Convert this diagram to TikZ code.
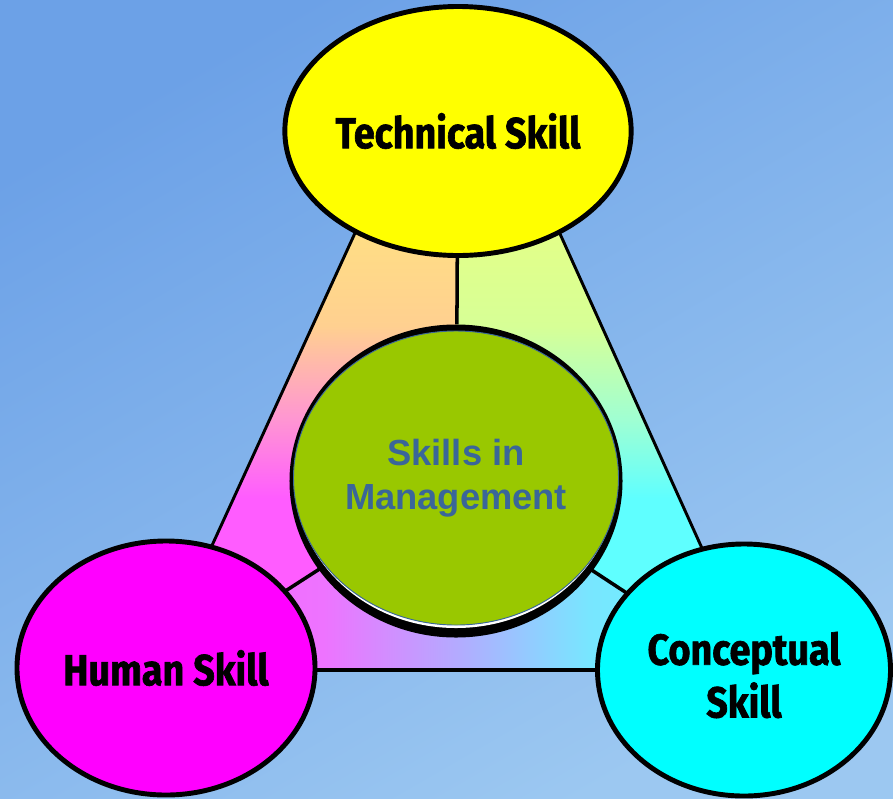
\documentclass[tikz,border=0pt]{standalone}
\usepackage{fontspec}
\setmainfont{Liberation Sans}
\newfontfamily\skillfont{Fira Sans}[FakeStretch=0.87,BoldFeatures={FakeBold=1.5}]
\usetikzlibrary{shapes.geometric}

\pgfdeclarelayer{back}
\pgfdeclarelayer{mid}
\pgfsetlayers{back,mid,main}

\definecolor{bgtop}{HTML}{6CA1E7}
\definecolor{bgbot}{HTML}{9CC8F1}
\definecolor{techyellow}{HTML}{FFFF00}
\definecolor{humanpink}{HTML}{FF00FF}
\definecolor{conceptcyan}{HTML}{00FFFF}
\definecolor{mgmtgreen}{HTML}{99C800}
\definecolor{mgmtblue}{HTML}{3A6699}
% triangle tints
\definecolor{paleyellow}{RGB}{255,255,105}
\definecolor{peach}{RGB}{255,208,144}
\definecolor{rosy}{RGB}{255,150,210}
\definecolor{lightmag}{RGB}{255,92,255}
\definecolor{lightgreen}{RGB}{215,255,150}
\definecolor{mint}{RGB}{160,255,210}
\definecolor{lightcyan}{RGB}{95,255,255}
\definecolor{violet}{RGB}{245,100,255}
\definecolor{orchid}{RGB}{238,115,255}
\definecolor{lavender}{RGB}{180,170,255}
\definecolor{skyish}{RGB}{120,230,255}
\definecolor{aqua}{RGB}{100,250,255}

\pgfdeclareverticalshading{leftmix}{100bp}{color(0bp)=(lightmag); color(38bp)=(lightmag);
  color(44bp)=(rosy); color(51bp)=(peach); color(75bp)=(paleyellow); color(100bp)=(paleyellow)}
\pgfdeclareverticalshading{rightmix}{100bp}{color(0bp)=(lightcyan); color(38bp)=(lightcyan);
  color(44bp)=(mint); color(51bp)=(lightgreen); color(75bp)=(paleyellow); color(100bp)=(paleyellow)}
\pgfdeclarehorizontalshading{bottommix}{100bp}{color(0bp)=(violet); color(25bp)=(violet);
  color(39bp)=(orchid); color(50bp)=(lavender); color(61bp)=(skyish); color(75bp)=(aqua); color(100bp)=(aqua)}

\begin{document}
\begin{tikzpicture}[x=0.03cm,y=-0.03cm]
\tikzset{skill/.style={draw, line width=4.2pt, ellipse, inner sep=0pt, align=center,
    font=\skillfont\bfseries\fontsize{37}{45}\selectfont},
  link/.style={line width=3pt}}
\useasboundingbox (0,0) rectangle (893,798);

% the three skills
\node[skill, fill=techyellow, minimum width=9cm, minimum height=7.47cm] (tech) at (458,131) {Technical Skill};
\node[skill, fill=humanpink, minimum width=8.94cm, minimum height=7.62cm] (human) at (166,668) {Human Skill};
\node[skill, fill=conceptcyan, minimum width=8.79cm, minimum height=7.56cm] (concept) at (744,670)
  {\raisebox{-9pt}[\height][\depth]{\begin{tabular}{@{}c@{}}Conceptual\\Skill\end{tabular}}};

% centre
\node[ellipse, fill=black, minimum width=9.99cm, minimum height=9.39cm] (ring) at (456,481) {};
\node[ellipse, fill=white, minimum width=9.66cm, minimum height=8.82cm] (gleam) at (456,481) {};
\node[ellipse, draw=mgmtblue, line width=0.8pt, fill=mgmtgreen, minimum width=9.66cm, minimum height=8.82cm,
  text=mgmtblue, align=center, font=\bfseries\fontsize{31}{38}\selectfont] (mgmt) at (456,478) {Skills in\\Management};

\coordinate (apex) at (458,8);
\coordinate (lcorner) at (155,670);
\coordinate (rcorner) at (757,670);

\begin{pgfonlayer}{back}
\fill[top color=bgtop, bottom color=bgbot, shading angle=30] (0,0) rectangle (893,798);
\shade[shading=leftmix] (apex) -- (lcorner) -- (human.center) -- (ring.center) -- (tech.center) -- cycle;
\shade[shading=rightmix] (apex) -- (rcorner) -- (concept.center) -- (ring.center) -- (tech.center) -- cycle;
\shade[shading=bottommix] (lcorner) -- (human.center) -- (ring.center) -- (concept.center) -- (rcorner) -- cycle;
\draw[line width=2.5pt] (apex) -- (lcorner);
\draw[line width=2.5pt] (apex) -- (rcorner);
\draw[line width=3.4pt] (lcorner) -- (rcorner);
\end{pgfonlayer}

\begin{pgfonlayer}{mid}
\draw[link] (ring) -- (tech);
\draw[link] (ring.center) -- (human.center);
\draw[link] (ring.center) -- (concept.center);
\end{pgfonlayer}
\end{tikzpicture}
\end{document}
